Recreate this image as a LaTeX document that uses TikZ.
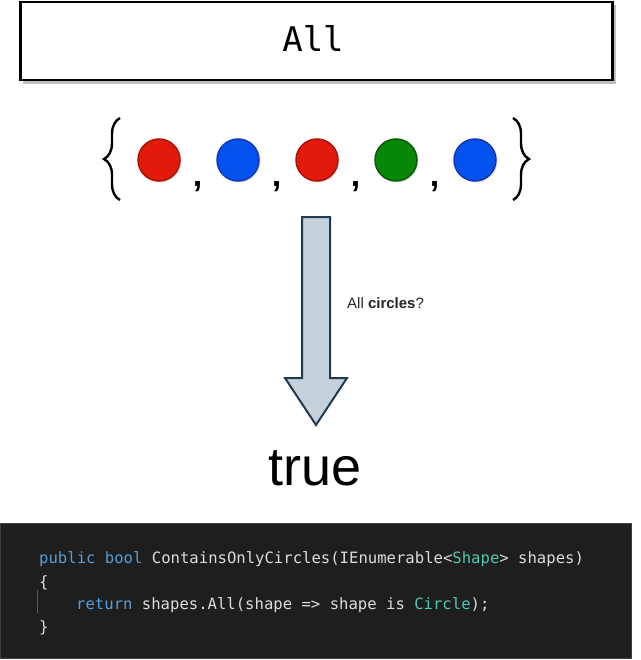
\documentclass[tikz,border=0pt]{standalone}
\usepackage{fontspec}
\setmainfont{Liberation Sans}
\newfontfamily\codefont{DejaVu Sans Mono}
\usetikzlibrary{calc,positioning,shadows,decorations.pathreplacing}
\definecolor{redfill}{HTML}{E11A0C}
\definecolor{redline}{HTML}{A8150E}
\definecolor{bluefill}{HTML}{0452EE}
\definecolor{blueline}{HTML}{1634B8}
\definecolor{greenfill}{HTML}{078607}
\definecolor{greenline}{HTML}{0A5A0A}
\definecolor{arrowfill}{HTML}{C4D0DA}
\definecolor{arrowline}{HTML}{1F3B53}
\definecolor{codebg}{HTML}{1E1E1E}
\definecolor{codetext}{HTML}{DCDCDC}
\definecolor{kwblue}{HTML}{569CD6}
\definecolor{typeteal}{HTML}{4EC9B0}
\tikzset{
  dot/.style={circle, minimum size=42pt, inner sep=0pt, outer sep=0pt, line width=1.5pt,
    drop shadow={shadow xshift=1.5pt, shadow yshift=-1.5pt, opacity=.2}},
  comma/.style={anchor=base, inner sep=0pt, font=\fontsize{34}{34}\selectfont\bfseries},
  setbrace/.style={decorate, decoration={brace, amplitude=16pt, aspect=.5}, line width=2.4pt},
  codeline/.style={anchor=base west, inner sep=0pt, text=codetext, font=\codefont\fontsize{15.6}{18}\selectfont}
}
\begin{document}
\begin{tikzpicture}[x=1pt, y=-1pt]
    \useasboundingbox (0,0) rectangle (640,660);
    % title box
    \fill[black!25] (23,5) rectangle (616,84);
    \node[draw, line width=2.5pt, fill=white, minimum width=592pt, minimum height=78pt, inner sep=0pt] (title) at (316.5,41) {};
    \node[anchor=base, font=\codefont\fontsize{34}{40}\selectfont] (alltext) at (313,52) {All};
    % the set
    \node[dot, fill=redfill, draw=redline] (c1) at (159,160) {};
    \node[dot, fill=bluefill, draw=blueline, right=37pt of c1] (c2) {};
    \node[dot, fill=redfill, draw=redline, right=37pt of c2] (c3) {};
    \node[dot, fill=greenfill, draw=greenline, right=37pt of c3] (c4) {};
    \node[dot, fill=bluefill, draw=blueline, right=37pt of c4] (c5) {};
    \node[comma] (k1) at ($(c1)!.5!(c2)+(-1,27)$) {,};
    \node[comma] (k2) at ($(c2)!.5!(c3)+(-1,27)$) {,};
    \node[comma] (k3) at ($(c3)!.5!(c4)+(-1,27)$) {,};
    \node[comma] (k4) at ($(c4)!.5!(c5)+(-1,27)$) {,};
    \draw[setbrace] (120,200) -- (120,118);
    \draw[setbrace] (513,118) -- (513,200);
    % arrow
    \draw[line width=2pt, line join=miter, draw=arrowline, fill=arrowfill]
      (302,217) -- (330,217) -- (330,378) -- (347,378) -- (316,425) -- (285,378) -- (302,378) -- cycle;
    \node[anchor=west, inner sep=0pt, text=black!85, font=\fontsize{15}{18}\selectfont] (question) at (347,303) {All \textbf{circles}?};
    \node[anchor=base, inner sep=0pt, font=\fontsize{54}{60}\selectfont] (result) at (315.5,485) {true};
    % code
    \draw[draw=black!75, fill=codebg] (0,523) rectangle (631,658);
    \draw[draw=black!65, line width=1pt] (37,590) -- (37,613);
    \node[codeline] (l1) at (39,563) {\textcolor{kwblue}{public bool} ContainsOnlyCircles(IEnumerable<\textcolor{typeteal}{Shape}> shapes)};
    \node[codeline] (l2) at (39,587) {\{};
    \node[codeline] (l3) at (76,609) {\textcolor{kwblue}{return} shapes.All(shape => shape is \textcolor{typeteal}{Circle});};
    \node[codeline] (l4) at (39,632) {\}};
\end{tikzpicture}
\end{document}
